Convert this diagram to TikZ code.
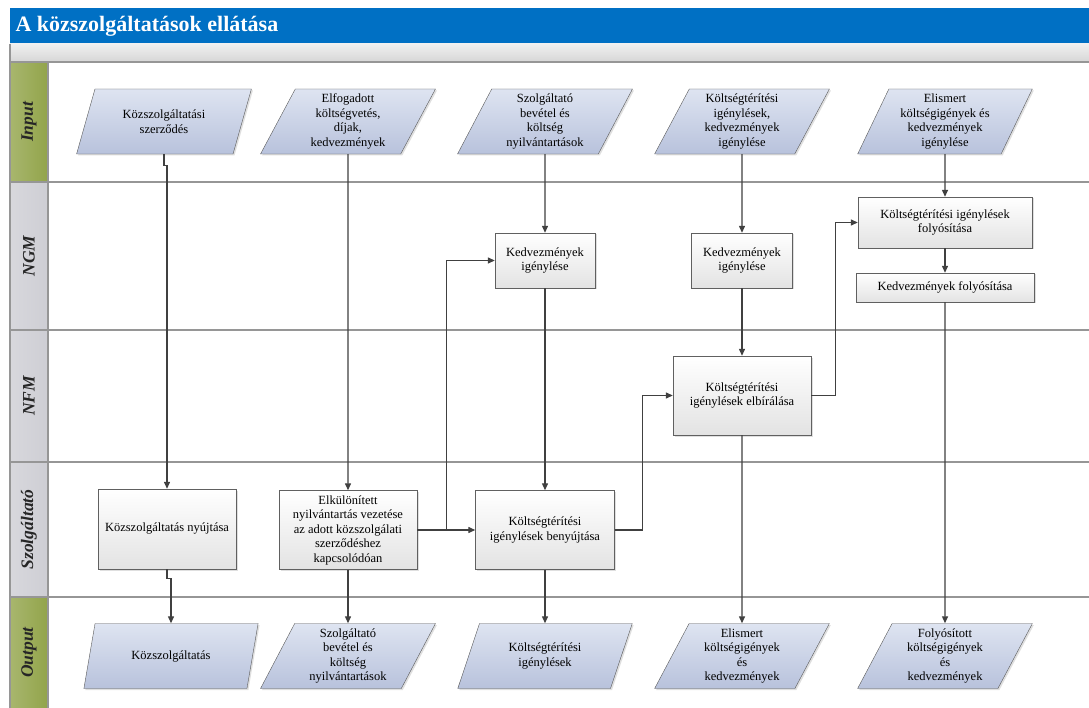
\documentclass[tikz,border=0pt]{standalone}
\usepackage{fontspec}
\setmainfont{Liberation Serif}
\usetikzlibrary{shapes.geometric,arrows.meta,positioning,shadows}

\definecolor{fejkek}{RGB}{0,112,196}
\definecolor{olivzold}{RGB}{146,164,74}
\definecolor{savszurke}{RGB}{206,206,212}
\definecolor{adatfelso}{RGB}{222,228,241}
\definecolor{adatalso}{RGB}{184,194,220}
\definecolor{vonal}{RGB}{64,64,64}
\definecolor{savvonal}{RGB}{150,150,150}

\begin{document}
\begin{tikzpicture}[x=1pt, y=-1pt, font=\fontsize{12.5}{14.5}\selectfont,
    folyamat/.style = {draw=gray!75!black, top color=white, bottom color=gray!22, align=center, inner sep=2pt,
                       drop shadow={shadow xshift=1.5pt, shadow yshift=-1.5pt, opacity=.25}},
    adat/.style = {trapezium, trapezium left angle=66, trapezium right angle=114, trapezium stretches=true,
                   minimum width=175pt, minimum height=65pt, inner sep=1pt, draw=gray!70!black,
                   top color=adatfelso, bottom color=adatalso, align=center,
                   drop shadow={shadow xshift=1.5pt, shadow yshift=-1.5pt, opacity=.25}},
    nyil/.style = {draw=vonal, line width=1.3pt, -{Triangle[length=7pt, width=6pt]}},
    sav/.style = {draw=savvonal, line width=1.2pt},
    savcimke/.style = {rotate=90, font=\fontsize{17.5}{19}\selectfont\bfseries\itshape, text=black!85}]

\useasboundingbox (0,0) rectangle (1089,708);
\fill[white] (0,0) rectangle (1089,708);

\fill[fejkek] (10,8) rectangle (1089,44);                                   %fejlec
\node[anchor=west, text=white, font=\fontsize{22}{25}\selectfont\bfseries] (cim) at (12,26) {A közszolgáltatások ellátása};
\shade[top color=gray!12, bottom color=gray!32] (10,44) rectangle (1089,62);

\foreach \fent/\lent/\nev/\szin [count=\i] in {62/182/Input/olivzold, 182/330/NGM/savszurke,
        330/462/NFM/savszurke, 462/597/Szolgáltató/savszurke, 597/708/Output/olivzold}{   %savok
    \shade[left color=\szin!80!white, right color=\szin] (10,\fent) rectangle (48,\lent);
    \node[savcimke] (sav\i) at (29,{(\fent+\lent)/2}) {\nev};
    \draw[sav] (10,\fent) -- (1089,\fent);
}
\draw[sav] (10,44) -- (10,708);
\draw[sav] (48,62) -- (48,708);

\node[adat] (in1) at (164,121.5) {Közszolgáltatási\\szerződés};            %input
\node[adat] (in2) at (348,121.5) {Elfogadott\\költségvetés,\\díjak,\\kedvezmények};
\node[adat] (in3) at (545,121.5) {Szolgáltató\\bevétel és\\költség\\nyilvántartások};
\node[adat] (in4) at (742,121.5) {Költségtérítési\\igénylések,\\kedvezmények\\igénylése};
\node[adat] (in5) at (945,121.5) {Elismert\\költségigények és\\kedvezmények\\igénylése};

\node[folyamat, minimum width=100pt, minimum height=55pt] (kedv1) at (545,260.5) {Kedvezmények\\igénylése};   %NGM
\node[folyamat, minimum width=101pt, minimum height=55pt] (kedv2) at (742,260.5) {Kedvezmények\\igénylése};
\node[folyamat, minimum width=174pt, minimum height=51pt] (kfoly) at (945,222.5) {Költségtérítési igénylések\\folyósítása};
\node[folyamat, minimum width=178pt, minimum height=29pt] (kedvfoly) at (945,287.5) {Kedvezmények folyósítása};

\node[folyamat, minimum width=138pt, minimum height=79pt] (elbir) at (742,395.5) {Költségtérítési\\igénylések elbírálása};   %NFM

\node[folyamat, minimum width=138pt, minimum height=80pt] (nyujt) at (167,529) {Közszolgáltatás nyújtása};   %szolgaltato
\node[folyamat, minimum width=138pt, minimum height=79pt] (elkul) at (348,530) {Elkülönített\\nyilvántartás vezetése\\az adott közszolgálati\\szerződéshez\\kapcsolódóan};
\node[folyamat, minimum width=139pt, minimum height=79pt] (benyujt) at (545,530) {Költségtérítési\\igénylések benyújtása};

\node[adat] (out1) at (171,656) {Közszolgáltatás};                          %output
\node[adat] (out2) at (348,656) {Szolgáltató\\bevétel és\\költség\\nyilvántartások};
\node[adat] (out3) at (545,656) {Költségtérítési\\igénylések};
\node[adat] (out4) at (742,656) {Elismert\\költségigények\\és\\kedvezmények};
\node[adat] (out5) at (945,656) {Folyósított\\költségigények\\és\\kedvezmények};

\coordinate (elag) at ([xshift=29pt]elkul.east);                           %elagazas
\draw[nyil] (in1.south) -- ++(0,11) -| (nyujt.north);
\draw[nyil] (in2) -- (elkul);
\draw[nyil] (in3) -- (kedv1);
\draw[nyil] (in4) -- (kedv2);
\draw[nyil] (in5) -- (kfoly);
\draw[nyil] (kfoly) -- (kedvfoly);
\draw[nyil] (kedv1) -- (benyujt);
\draw[nyil] (kedv2) -- (elbir);
\draw[nyil] (elkul) -- (benyujt);
\draw[nyil] (elag) |- (kedv1.west);
\draw[nyil] (benyujt.east) -- ++(28,0) |- (elbir.west);
\draw[nyil] (elbir.east) -- ++(24,0) |- (kfoly.west);
\draw[nyil] (nyujt.south) -- ++(0,9) -| (out1.north);
\draw[nyil] (elkul) -- (out2);
\draw[nyil] (benyujt) -- (out3);
\draw[nyil] (elbir) -- (out4);
\draw[nyil] (kedvfoly) -- (out5);
\end{tikzpicture}
\end{document}
